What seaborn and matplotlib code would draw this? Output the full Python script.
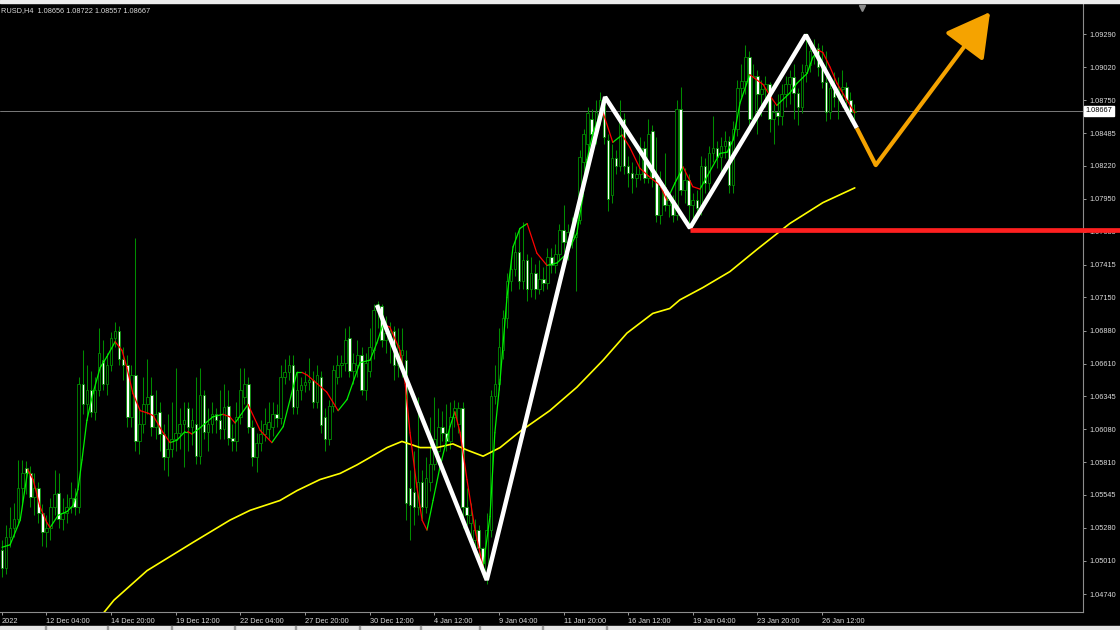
import numpy as np
import pandas as pd
import matplotlib
matplotlib.use("Agg")
import matplotlib.pyplot as plt
import matplotlib.transforms as mtransforms
from matplotlib.patches import FancyArrowPatch, Rectangle
import seaborn as sns

# ---------------------------------------------------------------------------
# EURUSD H4 candles (bar index = position on chart)
# ---------------------------------------------------------------------------
open_ = [
    1.0510, 1.0495, 1.0520, 1.0528, 1.0535, 1.0560, 1.0576, 1.0572, 1.0553, 1.0560,
    1.0540, 1.0524, 1.0528, 1.0545, 1.0556, 1.0535, 1.0540, 1.0545, 1.0552, 1.0545,
    1.0645, 1.0628, 1.0640, 1.0622, 1.0640, 1.0664, 1.0645, 1.0660, 1.0682, 1.0688,
    1.0665, 1.0660, 1.0618, 1.0652, 1.0598, 1.0612, 1.0628, 1.0636, 1.0610, 1.0622,
    1.0604, 1.0585, 1.0592, 1.0600, 1.0605, 1.0612, 1.0625, 1.0610, 1.0612, 1.0586,
    1.0636, 1.0606, 1.0612, 1.0620, 1.0615, 1.0608, 1.0627, 1.0601, 1.0598, 1.0618,
    1.0634, 1.0645, 1.0610, 1.0585, 1.0597, 1.0604, 1.0608, 1.0610, 1.0620, 1.0617,
    1.0650, 1.0654, 1.0660, 1.0626, 1.0640, 1.0644, 1.0646, 1.0648, 1.0630, 1.0650,
    1.0618, 1.0600, 1.0627, 1.0650, 1.0660, 1.0662, 1.0682, 1.0655, 1.0660, 1.0668,
    1.0640, 1.0655, 1.0672, 1.0705, 1.0708, 1.0680, 1.0683, 1.0688, 1.0660, 1.0668,
    1.0664, 1.0560, 1.0557, 1.0545, 1.0565, 1.0545, 1.0565, 1.0580, 1.0590, 1.0610,
    1.0605, 1.0598, 1.0618, 1.0612, 1.0625, 1.0545, 1.0532, 1.0518, 1.0526, 1.0511,
    1.0490, 1.0526, 1.0635, 1.0645, 1.0672, 1.0698, 1.0728, 1.0738, 1.0752, 1.0728,
    1.0745, 1.0722, 1.0735, 1.0722, 1.0730, 1.0727, 1.0748, 1.0741, 1.0750, 1.0770,
    1.0760, 1.0768, 1.0764, 1.0778, 1.0825, 1.0840, 1.0860, 1.0848, 1.0862, 1.0872,
    1.0843, 1.0798, 1.0828, 1.0822, 1.0860, 1.0822, 1.0816, 1.0812, 1.0815, 1.0836,
    1.0812, 1.0850, 1.0812, 1.0782, 1.0805, 1.0790, 1.0794, 1.0782, 1.0868, 1.0802,
    1.0810, 1.0790, 1.0794, 1.0788, 1.0822, 1.0808, 1.0832, 1.0836, 1.0829, 1.0838,
    1.0842, 1.0806, 1.0852, 1.0885, 1.0891, 1.0910, 1.0860, 1.0895, 1.0880, 1.0884,
    1.0888, 1.0860, 1.0866, 1.0862, 1.0880, 1.0888, 1.0894, 1.0881, 1.0870, 1.0898,
    1.0904, 1.0915, 1.0918, 1.0902, 1.0890, 1.0866, 1.0885, 1.0878, 1.0884, 1.0886,
    1.0875, 1.08656,
]
high = [
    1.0518, 1.0530, 1.0545, 1.0548, 1.0583, 1.0583, 1.0582, 1.0578, 1.0572, 1.0565,
    1.0547, 1.0538, 1.0552, 1.0575, 1.0572, 1.0552, 1.0555, 1.0565, 1.0560, 1.0650,
    1.0672, 1.0660, 1.0655, 1.0650, 1.0690, 1.0680, 1.0670, 1.0687, 1.0695, 1.0692,
    1.0675, 1.0668, 1.0660, 1.0763, 1.0625, 1.0650, 1.0665, 1.0650, 1.0640, 1.0630,
    1.0612, 1.0620, 1.0630, 1.0658, 1.0625, 1.0630, 1.0630, 1.0625, 1.0650, 1.0658,
    1.0640, 1.0625, 1.0630, 1.0625, 1.0640, 1.0645, 1.0640, 1.0612, 1.0630, 1.0658,
    1.0658, 1.0650, 1.0615, 1.0605, 1.0615, 1.0625, 1.0630, 1.0630, 1.0628, 1.0660,
    1.0665, 1.0668, 1.0668, 1.0655, 1.0650, 1.0655, 1.0666, 1.0655, 1.0660, 1.0655,
    1.0625, 1.0632, 1.0660, 1.0668, 1.0668, 1.0690, 1.0692, 1.0670, 1.0680, 1.0675,
    1.0670, 1.0690, 1.0710, 1.0712, 1.0710, 1.0700, 1.0695, 1.0692, 1.0690, 1.0690,
    1.0672, 1.0575, 1.0590, 1.0634, 1.0575, 1.0585, 1.0618, 1.0634, 1.0625, 1.0623,
    1.0628, 1.0630, 1.0632, 1.0630, 1.0630, 1.0560, 1.0548, 1.0535, 1.0530, 1.0512,
    1.0540, 1.0640, 1.0660, 1.0690, 1.0705, 1.0735, 1.0745, 1.0768, 1.0770, 1.0776,
    1.0750, 1.0748, 1.0742, 1.0745, 1.0740, 1.0755, 1.0755, 1.0758, 1.0775, 1.0790,
    1.0775, 1.0780, 1.0785, 1.0835, 1.0852, 1.0870, 1.0868, 1.0875, 1.0882, 1.0878,
    1.0848, 1.0840, 1.0835, 1.0875, 1.0865, 1.0830, 1.0825, 1.0822, 1.0845, 1.0842,
    1.0860, 1.0855, 1.0845, 1.0818, 1.0832, 1.0800, 1.0798, 1.0875, 1.0886, 1.0820,
    1.0815, 1.0800, 1.0802, 1.0830, 1.0828, 1.0838, 1.0862, 1.0842, 1.0845, 1.0850,
    1.0846, 1.0858, 1.0892, 1.0905, 1.0920, 1.0915, 1.0905, 1.0900, 1.0892, 1.0895,
    1.0890, 1.0872, 1.0880, 1.0888, 1.0895, 1.0900, 1.0905, 1.0885, 1.0905, 1.0930,
    1.0925, 1.0925, 1.0922, 1.0920, 1.0915, 1.0895, 1.0898, 1.0894, 1.0900, 1.0890,
    1.0882, 1.08722,
]
low = [
    1.0488, 1.0490, 1.0512, 1.0520, 1.0530, 1.0548, 1.0555, 1.0545, 1.0538, 1.0532,
    1.0513, 1.0512, 1.0518, 1.0538, 1.0528, 1.0526, 1.0532, 1.0540, 1.0538, 1.0540,
    1.0620, 1.0615, 1.0618, 1.0615, 1.0635, 1.0640, 1.0636, 1.0655, 1.0675, 1.0660,
    1.0648, 1.0610, 1.0610, 1.0590, 1.0588, 1.0605, 1.0620, 1.0602, 1.0600, 1.0590,
    1.0575, 1.0570, 1.0585, 1.0590, 1.0592, 1.0577, 1.0590, 1.0595, 1.0580, 1.0580,
    1.0600, 1.0590, 1.0605, 1.0605, 1.0600, 1.0600, 1.0595, 1.0590, 1.0590, 1.0612,
    1.0628, 1.0605, 1.0578, 1.0573, 1.0590, 1.0598, 1.0600, 1.0602, 1.0610, 1.0612,
    1.0645, 1.0648, 1.0620, 1.0620, 1.0632, 1.0638, 1.0640, 1.0625, 1.0625, 1.0605,
    1.0590, 1.0595, 1.0622, 1.0645, 1.0650, 1.0655, 1.0650, 1.0645, 1.0650, 1.0636,
    1.0632, 1.0650, 1.0665, 1.0690, 1.0675, 1.0670, 1.0662, 1.0648, 1.0650, 1.0650,
    1.0534, 1.0518, 1.0530, 1.0538, 1.0535, 1.0540, 1.0558, 1.0575, 1.0580, 1.0598,
    1.0590, 1.0592, 1.0610, 1.0605, 1.0528, 1.0530, 1.0520, 1.0510, 1.0500, 1.0488,
    1.0482, 1.0520, 1.0628, 1.0640, 1.0665, 1.0690, 1.0720, 1.0732, 1.0722, 1.0722,
    1.0712, 1.0715, 1.0714, 1.0718, 1.0720, 1.0722, 1.0735, 1.0735, 1.0745, 1.0752,
    1.0745, 1.0755, 1.0720, 1.0775, 1.0815, 1.0830, 1.0840, 1.0840, 1.0855, 1.0840,
    1.0785, 1.0792, 1.0815, 1.0818, 1.0815, 1.0805, 1.0800, 1.0805, 1.0810, 1.0808,
    1.0808, 1.0805, 1.0776, 1.0775, 1.0785, 1.0780, 1.0776, 1.0778, 1.0798, 1.0792,
    1.0771, 1.0776, 1.0780, 1.0782, 1.0800, 1.0802, 1.0825, 1.0820, 1.0815, 1.0828,
    1.0800, 1.0800, 1.0846, 1.0878, 1.0880, 1.0852, 1.0856, 1.0848, 1.0862, 1.0870,
    1.0849, 1.0840, 1.0855, 1.0855, 1.0870, 1.0872, 1.0860, 1.0855, 1.0865, 1.0890,
    1.0898, 1.0905, 1.0895, 1.0885, 1.0858, 1.0860, 1.0870, 1.0860, 1.0870, 1.0865,
    1.0858, 1.08557,
]
close = [
    1.0495, 1.0520, 1.0528, 1.0535, 1.0560, 1.0572, 1.0572, 1.0553, 1.0560, 1.0540,
    1.0524, 1.0528, 1.0545, 1.0555, 1.0535, 1.0540, 1.0545, 1.0552, 1.0545, 1.0645,
    1.0628, 1.0640, 1.0622, 1.0640, 1.0670, 1.0645, 1.0660, 1.0682, 1.0688, 1.0665,
    1.0660, 1.0618, 1.0652, 1.0598, 1.0612, 1.0628, 1.0634, 1.0610, 1.0620, 1.0604,
    1.0585, 1.0592, 1.0600, 1.0605, 1.0612, 1.0615, 1.0610, 1.0615, 1.0586, 1.0636,
    1.0606, 1.0612, 1.0620, 1.0615, 1.0608, 1.0626, 1.0601, 1.0598, 1.0618, 1.0640,
    1.0645, 1.0610, 1.0585, 1.0597, 1.0604, 1.0612, 1.0614, 1.0620, 1.0617, 1.0650,
    1.0654, 1.0660, 1.0626, 1.0640, 1.0644, 1.0646, 1.0648, 1.0630, 1.0652, 1.0611,
    1.0600, 1.0627, 1.0656, 1.0660, 1.0662, 1.0680, 1.0655, 1.0662, 1.0668, 1.0640,
    1.0662, 1.0675, 1.0705, 1.0710, 1.0680, 1.0686, 1.0688, 1.0660, 1.0676, 1.0672,
    1.0548, 1.0546, 1.0545, 1.0565, 1.0545, 1.0568, 1.0580, 1.0600, 1.0610, 1.0605,
    1.0598, 1.0618, 1.0625, 1.0625, 1.0545, 1.0538, 1.0538, 1.0526, 1.0511, 1.0499,
    1.0526, 1.0635, 1.0645, 1.0675, 1.0698, 1.0728, 1.0738, 1.0752, 1.0728, 1.0745,
    1.0722, 1.0735, 1.0722, 1.0730, 1.0727, 1.0748, 1.0741, 1.0750, 1.0770, 1.0760,
    1.0768, 1.0764, 1.0778, 1.0829, 1.0848, 1.0865, 1.0848, 1.0866, 1.0875, 1.0845,
    1.0795, 1.0828, 1.0822, 1.0860, 1.0822, 1.0816, 1.0812, 1.0815, 1.0836, 1.0812,
    1.0848, 1.0812, 1.0782, 1.0805, 1.0790, 1.0794, 1.0782, 1.0868, 1.0802, 1.0810,
    1.0790, 1.0794, 1.0788, 1.0822, 1.0808, 1.0832, 1.0836, 1.0829, 1.0838, 1.0842,
    1.0806, 1.0852, 1.0885, 1.0891, 1.0910, 1.0860, 1.0895, 1.0880, 1.0884, 1.0888,
    1.0860, 1.0866, 1.0862, 1.0880, 1.0888, 1.0894, 1.0881, 1.0870, 1.0898, 1.0904,
    1.0915, 1.0918, 1.0902, 1.0890, 1.0866, 1.0885, 1.0878, 1.0884, 1.0886, 1.0875,
    1.0866, 1.08667,
]

# fast moving average (green rising / red falling), read at sample bars
fast_bar = [0, 2, 4.5, 6.4, 7.7, 9.4, 11.1, 11.9, 13.9, 16.1, 17.6, 18.8, 19.8, 21.0,
            22.5, 24.3, 26.0, 28.0, 29.7, 30.9, 32.4, 34.2, 36.1, 37.4, 39.9, 41.6,
            43.3, 45.3, 46.0, 47.0, 49.0, 52.2, 54.7, 56.4, 57.7, 60.9, 63.9, 66.8,
            69.6, 73.0, 74.3, 75.5, 78.0, 80.4, 83.2, 85.4, 88.6, 91.1, 92.8, 94.3,
            96.0, 98.5, 99.8, 101.0, 102.7, 104.0, 105.2, 106.7, 108.4, 110.9, 112.1,
            113.4, 115.1, 117.1, 119.1, 120.8, 122.0, 123.3, 125.0, 126.5, 128.2,
            130.0, 132.4, 134.9, 137.4, 139.9, 142.3, 143.8, 144.8, 146.3, 148.0,
            148.8, 151.2, 153.5, 155.4, 157.9, 159.9, 162.9, 164.6, 166.6, 168.6,
            171.0, 172.8, 177.7, 179.5, 181.0, 182.7, 185.1, 188.4, 190.1, 191.8,
            195.0, 196.8, 199.3, 200.7, 202.0, 203.2, 205.0, 206.7, 209.2, 211.1]
fast_price = [1.0512, 1.0514, 1.0534, 1.0575, 1.0567, 1.0545, 1.0532, 1.0528, 1.0538,
              1.0541, 1.0546, 1.0559, 1.0583, 1.0615, 1.0637, 1.0658, 1.0667, 1.0679,
              1.0672, 1.0658, 1.0637, 1.0623, 1.0621, 1.0619, 1.0605, 1.0597, 1.0599,
              1.0606, 1.0606, 1.0604, 1.0609, 1.0618, 1.0620, 1.0618, 1.0613, 1.0628,
              1.0607, 1.0597, 1.0610, 1.0654, 1.0654, 1.0652, 1.0645, 1.0638, 1.0623,
              1.0632, 1.0662, 1.0664, 1.0678, 1.0693, 1.0691, 1.0672, 1.0645, 1.0605,
              1.0561, 1.0534, 1.0526, 1.0550, 1.0577, 1.0610, 1.0622, 1.0605, 1.0567,
              1.0526, 1.0496, 1.0537, 1.0605, 1.0648, 1.0715, 1.0756, 1.0771, 1.0775,
              1.0751, 1.0741, 1.0743, 1.0751, 1.0767, 1.0797, 1.0827, 1.0849, 1.0863,
              1.0865, 1.0841, 1.0847, 1.0837, 1.0820, 1.0814, 1.0806, 1.0794, 1.0808,
              1.0821, 1.0805, 1.0803, 1.0832, 1.0833, 1.0843, 1.0873, 1.0896, 1.0888,
              1.0879, 1.0871, 1.0881, 1.0889, 1.0897, 1.0910, 1.0916, 1.0914, 1.0902,
              1.0889, 1.0875, 1.0865]

# slow moving average (yellow)
slow_bar = [23.0, 27.7, 35.9, 47.3, 56.4, 61.4, 68.8, 73.0, 78.7, 83.7, 87.9, 91.1, 95.3,
            99.0, 103.5, 107.7, 111.6, 115.1, 119.1, 123.3, 128.2, 135.6, 142.3, 148.8,
            154.7, 161.1, 165.3, 167.8, 173.5, 180.2, 186.9, 195.0, 203.2, 211.1]
slow_price = [1.0450, 1.0469, 1.0493, 1.0516, 1.0534, 1.0542, 1.0550, 1.0558, 1.0567,
              1.0572, 1.0579, 1.0585, 1.0593, 1.0598, 1.0593, 1.0593, 1.0596, 1.0591,
              1.0586, 1.0593, 1.0606, 1.0623, 1.0642, 1.0664, 1.0686, 1.0702, 1.0706,
              1.0713, 1.0723, 1.0736, 1.0754, 1.0775, 1.0792, 1.0804]

# hand drawn annotations
zz_bar = [92.8, 120.0, 149.3, 170.3, 199.0, 211.6]
zz_price = [1.07088, 1.04854, 1.08778, 1.07714, 1.09282, 1.08526]
proj_bar = [211.6, 216.3, 244.6]
proj_price = [1.08526, 1.08225, 1.09469]
support_price = 1.07697
support_from = 170.3
last_price = 1.08667

price_ticks = [1.04740, 1.05010, 1.05280, 1.05545, 1.05810, 1.06080, 1.06345, 1.06610,
               1.06880, 1.07150, 1.07415, 1.07685, 1.07950, 1.08220, 1.08485, 1.08750,
               1.09020, 1.09290]
time_ticks = [0, 11, 27, 43, 59, 75, 91, 107, 123, 139, 155, 171, 187, 203]
time_labels = ["2022", "12 Dec 04:00", "14 Dec 20:00", "19 Dec 12:00", "22 Dec 04:00",
               "27 Dec 20:00", "30 Dec 12:00", "4 Jan 12:00", "9 Jan 04:00",
               "11 Jan 20:00", "16 Jan 12:00", "19 Jan 04:00", "23 Jan 20:00",
               "26 Jan 12:00"]

bars = pd.DataFrame({"open": open_, "high": high, "low": low, "close": close})
bars["bar"] = np.arange(len(bars))

# fast MA split into segments so each piece gets its trend colour
seg_rows = []
for k in range(len(fast_bar) - 1):
    trend = "up" if fast_price[k + 1] >= fast_price[k] else "down"
    for j in (k, k + 1):
        seg_rows.append({"bar": fast_bar[j], "price": fast_price[j], "seg": k, "trend": trend})
fast_df = pd.DataFrame(seg_rows)
slow_df = pd.DataFrame({"bar": slow_bar, "price": slow_price})

sns.set_theme(style="dark", rc={"axes.facecolor": "black", "figure.facecolor": "black"})
plt.rcParams["font.family"] = ["Liberation Sans", "DejaVu Sans"]

W, H = 1120, 630
fig = plt.figure(figsize=(W / 100, H / 100), dpi=100, facecolor="black")
ax = fig.add_axes([0, 1 - 612 / H, 1083 / W, 608 / H])
ax.set_facecolor("black")

ax.axhline(last_price, color="#7a7a7a", lw=0.7, zorder=1)

# candles
wick = "#008c00"
ax.vlines(bars["bar"], bars["low"], bars["high"], color=wick, lw=0.75, zorder=2)
up = bars["close"] >= bars["open"]
body_low = np.minimum(bars["open"], bars["close"])
body_h = np.maximum((bars["close"] - bars["open"]).abs(), 0.00004)
ax.bar(bars["bar"], body_h, bottom=body_low, width=0.64,
       color=np.where(up, "black", "white"), edgecolor=wick, linewidth=0.6, zorder=3)

sns.lineplot(data=slow_df, x="bar", y="price", color="#ffff00", lw=1.2,
             estimator=None, sort=False, ax=ax, zorder=4)
sns.lineplot(data=fast_df, x="bar", y="price", hue="trend", units="seg", estimator=None,
             palette={"up": "#00f000", "down": "#ff0000"}, lw=0.9, legend=False,
             ax=ax, zorder=4)

# zigzag, projection, support
ax.plot(zz_bar, zz_price, color="white", lw=3.2, solid_joinstyle="bevel",
        solid_capstyle="butt", zorder=6)
ax.plot(proj_bar[:2], proj_price[:2], color="#f5a300", lw=3.0, solid_capstyle="butt", zorder=6)
ax.add_patch(FancyArrowPatch((proj_bar[1], proj_price[1]), (proj_bar[2], proj_price[2]),
                             arrowstyle="-|>,head_length=0.9,head_width=0.5",
                             mutation_scale=30, lw=3.0, color="#f5a300",
                             shrinkA=0, shrinkB=0, zorder=6, clip_on=False))
ax.plot([support_from, 277], [support_price, support_price], color="#ff2020", lw=3.4,
        solid_capstyle="butt", clip_on=False, zorder=8)

ax.set_xlim(-0.5, 267.6)
ax.set_ylim(1.04594, 1.09534)
ax.set_xlabel("")
ax.set_ylabel("")
ax.grid(False)

ax.yaxis.tick_right()
ax.set_yticks(price_ticks)
ax.set_yticklabels([f"{p:.5f}" for p in price_ticks])
ax.set_xticks(time_ticks)
ax.set_xticklabels(time_labels, ha="left")
ax.tick_params(axis="both", colors="#9a9a9a", labelcolor="#dcdcdc", labelsize=5.3,
               length=2.5, width=0.7, direction="out")
ax.tick_params(axis="y", pad=2, left=False, right=True)
ax.tick_params(axis="x", pad=2, bottom=True)

for side in ("left", "top"):
    ax.spines[side].set_visible(False)
for side in ("right", "bottom"):
    ax.spines[side].set_visible(True)
    ax.spines[side].set_color("#8c8c8c")
    ax.spines[side].set_linewidth(0.8)

# current price box on the price scale
blend = mtransforms.blended_transform_factory(ax.transAxes, ax.transData)
ax.text(1.0025, last_price, f"{last_price:.5f}", transform=blend, ha="left", va="center",
        fontsize=5.3, color="black", zorder=9,
        bbox=dict(boxstyle="square,pad=0.18", fc="white", ec="white"))

# chart shift marker at the top
ax.plot([212.9], [0.993], marker="v", ms=4, color="#8c8c8c",
        transform=mtransforms.blended_transform_factory(ax.transData, ax.transAxes),
        clip_on=False, zorder=9)

fig.text(1 / W, 1 - 10.5 / H, "RUSD,H4  1.08656 1.08722 1.08557 1.08667",
         fontsize=5.3, color="#d8d8d8", va="center", ha="left")

# window chrome strips
fig.patches.append(Rectangle((0, 1 - 3 / H), 1, 3 / H, transform=fig.transFigure,
                             color="#ececec", zorder=0))
fig.patches.append(Rectangle((0, 0), 1, 4 / H, transform=fig.transFigure,
                             color="#e6e6e6", zorder=0))
for px in [45, 107, 171, 234, 295, 359, 420, 479, 542, 606]:
    fig.patches.append(Rectangle((px / W, 0), 1 / W, 4 / H, transform=fig.transFigure,
                                 color="#9a9a9a", zorder=1))

fig.savefig("out.png", dpi=100, facecolor="black")
